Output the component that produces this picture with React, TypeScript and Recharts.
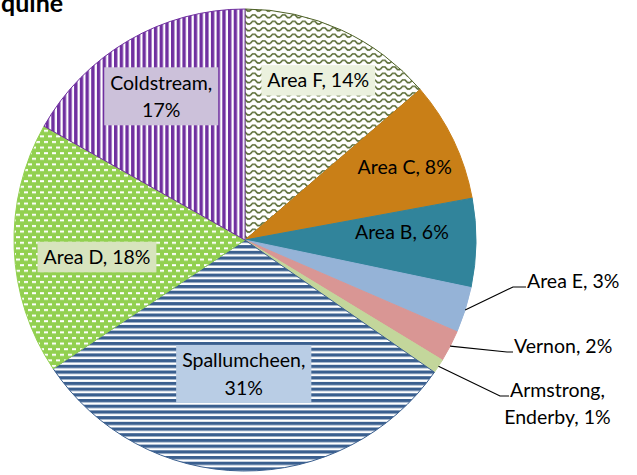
import React from 'react';
import { PieChart, Pie, Cell } from 'recharts';

const names = ['Area F', 'Area C', 'Area B', 'Area E', 'Vernon', 'Armstrong, Enderby', 'Spallumcheen', 'Area D', 'Coldstream'];
const shares = [13.7, 8.4, 6.2, 3.2, 2.2, 1.0, 30.9, 17.6, 16.8];

const data = names.map((name, i) => ({ name, value: shares[i] }));

// fill + outline per slice (pattern ids are defined in <defs> below)
const fills = ['url(#zigzag)', '#C97F17', '#31849B', '#95B3D7', '#D99694', '#C3D69B', 'url(#hstripe)', 'url(#dash)', 'url(#vstripe)'];
const strokes = ['#4F6228', '#C97F17', '#31849B', '#95B3D7', '#D99694', '#C3D69B', '#3A5F8F', '#92D050', '#7030A0'];

type LabelStyle =
  | { kind: 'inside'; r: number; rot: number; box?: string }
  | { kind: 'outside'; dx: number; dy: number; tail: number };

const labelStyles: LabelStyle[] = [
  { kind: 'inside', r: 0.76, rot: 0, box: '#EBF1DE' },
  { kind: 'inside', r: 0.76, rot: -1 },
  { kind: 'inside', r: 0.68, rot: 3.5 },
  { kind: 'outside', dx: 268, dy: 47, tail: 13 },
  { kind: 'outside', dx: 262, dy: 112, tail: 6 },
  { kind: 'outside', dx: 255, dy: 156, tail: 9 },
  { kind: 'inside', r: 0.58, rot: 0, box: '#B9CDE5' },
  { kind: 'inside', r: 0.645, rot: 4.4, box: '#D7E4BD' },
  { kind: 'inside', r: 0.72, rot: 0, box: '#CCC1DA' },
];

const FONT = 'Lato, "Noto Sans", sans-serif';
const FS = 19.5;
const LINE_H = 27.5;
const WRAP_W = 130;

let ctx: CanvasRenderingContext2D | null = null;
function textWidth(s: string): number {
  if (!ctx) {
    ctx = document.createElement('canvas').getContext('2d');
  }
  if (!ctx) return s.length * FS * 0.5;
  ctx.font = `${FS}px Lato`;
  return ctx.measureText(s).width;
}

function wrap(text: string): string[] {
  const words = text.split(' ');
  const lines: string[] = [];
  let cur = '';
  words.forEach((w) => {
    const next = cur ? cur + ' ' + w : w;
    if (cur && textWidth(next) > WRAP_W) {
      lines.push(cur);
      cur = w;
    } else {
      cur = next;
    }
  });
  if (cur) lines.push(cur);
  return lines;
}

const RAD = Math.PI / 180;

function renderLabel(props: any) {
  const { cx, cy, midAngle, outerRadius, percent, name, index } = props;
  const style = labelStyles[index];
  const lines = wrap(`${name}, ${Math.round(percent * 100)}%`);
  const widths = lines.map(textWidth);

  if (style.kind === 'inside') {
    const a = (midAngle + style.rot) * RAD;
    const r = outerRadius * style.r;
    const x = cx + r * Math.cos(-a);
    const y = cy + r * Math.sin(-a);
    const maxW = Math.max(...widths);
    const boxW = maxW + 12;
    const boxH = lines.length * LINE_H + 3;
    const top = y - ((lines.length - 1) * LINE_H) / 2;
    return (
      <g>
        {style.box && <rect x={x - boxW / 2} y={y - boxH / 2} width={boxW} height={boxH} fill={style.box} />}
        {lines.map((l, i) => (
          <text key={i} x={x} y={top + i * LINE_H + FS * 0.36} textAnchor="middle" fontFamily={FONT} fontSize={FS} fill="#000">
            {l}
          </text>
        ))}
      </g>
    );
  }

  const a = midAngle * RAD;
  const sx = cx + outerRadius * Math.cos(-a);
  const sy = cy + outerRadius * Math.sin(-a);
  const ex = cx + style.dx;
  const ey = cy + style.dy;
  const tx = ex + style.tail;
  const center = tx + 1 + widths[0] / 2;
  return (
    <g>
      <polyline points={`${sx},${sy} ${ex},${ey} ${tx},${ey}`} fill="none" stroke="#000" strokeWidth={1.2} />
      {lines.map((l, i) => (
        <text key={i} x={center} y={ey + 1 + i * (LINE_H - 1)} textAnchor="middle" fontFamily={FONT} fontSize={FS} fill="#000">
          {l}
        </text>
      ))}
    </g>
  );
}

export default function App() {
  return (
    <div style={{ position: 'absolute', left: 0, top: 0, width: 637, height: 475, background: '#fff' }}>
      <div
        style={{
          position: 'absolute',
          left: 1,
          top: -13,
          fontFamily: FONT,
          fontWeight: 700,
          fontSize: 25,
          lineHeight: '30px',
          color: '#000',
        }}
      >
        quine
      </div>
      <PieChart width={637} height={475} margin={{ top: 0, right: 0, bottom: 0, left: 0 }}>
        <defs>
          <pattern id="zigzag" patternUnits="userSpaceOnUse" width={10} height={6.5}>
            <rect width={10} height={6.5} fill="#fff" />
            <path d="M0 4.5 L2.5 1.8 L5 1.8 L7.5 4.5 L10 4.5" fill="none" stroke="#4F6228" strokeWidth={1.5} />
          </pattern>
          <pattern id="hstripe" patternUnits="userSpaceOnUse" width={6} height={5.7}>
            <rect width={6} height={5.7} fill="#fff" />
            <rect width={6} height={3.3} fill="#3A5F8F" />
          </pattern>
          <pattern id="vstripe" patternUnits="userSpaceOnUse" width={5.7} height={6}>
            <rect width={5.7} height={6} fill="#fff" />
            <rect width={3.4} height={6} fill="#7030A0" />
          </pattern>
          <pattern id="dash" patternUnits="userSpaceOnUse" width={8} height={11.2}>
            <rect width={8} height={11.2} fill="#92D050" />
            <rect x={0} y={1} width={4} height={2} fill="#fff" />
            <rect x={4} y={6.6} width={4} height={2} fill="#fff" />
          </pattern>
        </defs>
        <Pie
          data={data}
          dataKey="value"
          nameKey="name"
          cx={245}
          cy={240}
          outerRadius={231}
          startAngle={90}
          endAngle={-270}
          label={renderLabel}
          labelLine={false}
          isAnimationActive={false}
        >
          {data.map((d, i) => (
            <Cell key={d.name} fill={fills[i]} stroke={strokes[i]} strokeWidth={1} />
          ))}
        </Pie>
      </PieChart>
    </div>
  );
}
